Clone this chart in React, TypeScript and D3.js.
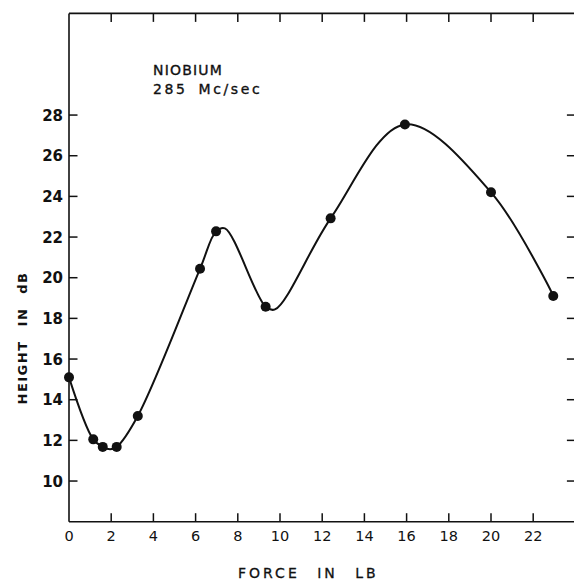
import React from "react";
import * as d3 from "d3";

// Measured data points (force in lb, height in dB)
const forceLb = [0, 1.15, 1.6, 2.26, 3.26, 6.21, 6.97, 9.32, 12.4, 15.92, 20.0, 22.95];
const heightDb = [15.1, 12.05, 11.68, 11.68, 13.2, 20.44, 22.28, 18.57, 22.92, 27.54, 24.2, 19.1];

// Hand-drawn smooth curve (dots plus its turning points)
const curveForce = [0, 1.15, 1.6, 1.95, 2.26, 3.26, 6.21, 6.97, 7.39, 9.32, 9.76, 12.4, 15.92, 20.0, 22.95];
const curveHeight = [15.1, 12.05, 11.68, 11.56, 11.68, 13.2, 20.44, 22.28, 22.43, 18.57, 18.44, 22.92, 27.54, 24.2, 19.1];

const xTicks = [0, 2, 4, 6, 8, 10, 12, 14, 16, 18, 20, 22];
const yTicks = [10, 12, 14, 16, 18, 20, 22, 24, 26, 28];

const titleLines = ["NIOBIUM", "285 Mc/sec"];
const xTitle = "FORCE IN LB";
const yTitle = "HEIGHT IN dB";

const W = 574;
const H = 581;

export default function App() {
  const x = d3.scaleLinear().domain([0, 24]).range([69, 575.4]);
  const y = d3.scaleLinear().domain([8, 33]).range([521.7, 13.4]);

  const pts: [number, number][] = curveForce.map((f, i) => [f, curveHeight[i]]);
  const line = d3
    .line<[number, number]>()
    .x((d) => x(d[0]))
    .y((d) => y(d[1]))
    .curve(d3.curveCatmullRom.alpha(0.5));

  const ink = "#111";
  const x0 = x(0);
  const x1 = x(24);
  const yTop = y(33);
  const yBot = y(8);
  const tick = 8.5;

  return (
    <svg
      width={W}
      height={H}
      style={{ position: "absolute", left: 0, top: 0, background: "#fff" }}
      fontFamily="'DejaVu Sans', sans-serif"
    >
      <rect x={0} y={0} width={W} height={H} fill="#fff" />
      {/* frame */}
      <g stroke={ink} strokeWidth={1.6} fill="none">
        <line x1={x0} y1={yTop} x2={x0} y2={yBot} />
        <line x1={x0} y1={yTop} x2={x1} y2={yTop} />
        <line x1={x0} y1={yBot} x2={x1} y2={yBot} />
        <line x1={x1} y1={yTop} x2={x1} y2={yBot} />
      </g>
      {/* ticks */}
      <g stroke={ink} strokeWidth={1.5}>
        {xTicks.filter((t) => t > 0).map((t) => (
          <g key={"xt" + t}>
            <line x1={x(t)} x2={x(t)} y1={yBot} y2={yBot - tick} />
            <line x1={x(t)} x2={x(t)} y1={yTop} y2={yTop + tick} />
          </g>
        ))}
        {yTicks.map((t) => (
          <g key={"yt" + t}>
            <line x1={x0} x2={x0 + tick} y1={y(t)} y2={y(t)} />
            <line x1={x1} x2={x1 - tick} y1={y(t)} y2={y(t)} />
          </g>
        ))}
      </g>
      {/* x tick labels */}
      <g fill={ink} fontSize={14.5} textAnchor="middle">
        {xTicks.map((t) => (
          <text key={"xl" + t} x={x(t)} y={yBot + 19}>
            {t}
          </text>
        ))}
      </g>
      {/* y tick labels */}
      <g fill={ink} fontSize={15} fontWeight="bold" textAnchor="end">
        {yTicks.map((t) => (
          <text key={"yl" + t} x={x0 - 6} y={y(t) + 5.5}>
            {t}
          </text>
        ))}
      </g>
      {/* curve */}
      <path d={line(pts) || ""} fill="none" stroke={ink} strokeWidth={2} />
      {/* points */}
      <g fill={ink}>
        {forceLb.map((f, i) => (
          <circle key={"p" + i} cx={x(f)} cy={y(heightDb[i])} r={5} />
        ))}
      </g>
      {/* annotation */}
      <g fill={ink} stroke={ink} strokeWidth={0.35} fontSize={14}>
        <text x={153} y={75} letterSpacing={1.2}>
          {titleLines[0]}
        </text>
        <text x={153} y={94} letterSpacing={2.6} wordSpacing={4}>
          {titleLines[1]}
        </text>
      </g>
      {/* axis titles */}
      <text x={238} y={578} fill={ink} stroke={ink} strokeWidth={0.3} fontSize={14} letterSpacing={3} wordSpacing={10}>
        {xTitle}
      </text>
      <text
        transform="translate(27,338) rotate(-90)"
        fill={ink}
        fontSize={13}
        fontWeight="bold"
        textAnchor="middle"
        letterSpacing={1.5}
        wordSpacing={8}
      >
        {yTitle}
      </text>
    </svg>
  );
}
